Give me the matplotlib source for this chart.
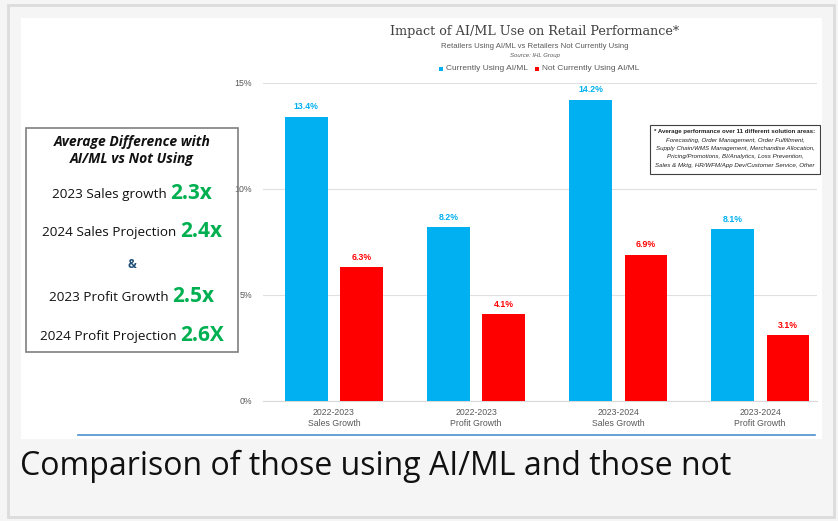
import matplotlib
matplotlib.use("Agg")
import matplotlib.pyplot as plt
from matplotlib.patches import Rectangle
from matplotlib.lines import Line2D

W, H = 838, 521

categories = ["2022-2023\nSales Growth", "2022-2023\nProfit Growth",
              "2023-2024\nSales Growth", "2023-2024\nProfit Growth"]
using = [13.4, 8.2, 14.2, 8.1]
not_using = [6.3, 4.1, 6.9, 3.1]
series_names = ["Currently Using AI/ML", "Not Currently Using AI/ML"]
yticks = [0, 5, 10, 15]

summary_lines = [("2023 Sales growth ", "2.3x"),
                 ("2024 Sales Projection ", "2.4x"),
                 None,
                 ("2023 Profit Growth ", "2.5x"),
                 ("2024 Profit Projection ", "2.6X")]
note_lines = ["* Average performance over 11 different solution areas:",
              "Forecasting, Order Management, Order Fulfillment,",
              "Supply Chain/WMS Management, Merchandise Allocation,",
              "Pricing/Promotions, BI/Analytics, Loss Prevention,",
              "Sales & Mktg, HR/WFM/App Dev/Customer Service, Other"]

BLUE = "#00b0f0"
RED = "#ff0000"
GREEN = "#00b050"
GREY = "#595959"


def fx(px):
    return px / W


def fy(py):
    return 1 - py / H


fig = plt.figure(figsize=(W / 100, H / 100), dpi=100, facecolor="#f5f5f5")

# outer frame and white card (kept behind the axes)
fig.add_artist(Rectangle((fx(8), fy(517)), fx(826), 512 / H, transform=fig.transFigure,
                         fill=False, edgecolor="#dcdcdc", lw=2, zorder=-2))
fig.add_artist(Rectangle((fx(21), fy(439)), fx(801), 421 / H, transform=fig.transFigure,
                         facecolor="white", edgecolor="none", zorder=-1))
fig.add_artist(Line2D([fx(78), fx(815)], [fy(435), fy(435)], transform=fig.transFigure,
                      color="#4a90d0", lw=1.2))

# bar chart
ax = fig.add_axes([fx(263), fy(401), fx(817) - fx(263), 318 / H])
ax.set_facecolor("none")
x = range(len(categories))
off, bw = 0.195, 0.30
bars_u = ax.bar([i - off for i in x], using, bw, color=BLUE, zorder=3)
bars_n = ax.bar([i + off for i in x], not_using, bw, color=RED, zorder=3)
for bars, vals, c in [(bars_u, using, BLUE), (bars_n, not_using, RED)]:
    for b, v in zip(bars, vals):
        ax.annotate(f"{v:.1f}%", (b.get_x() + b.get_width() / 2, v), xytext=(0, 4),
                    textcoords="offset points", ha="center", va="bottom",
                    color=c, fontsize=6.3, fontweight="bold", family="Liberation Sans")
ax.set_xlim(-0.5, 3.4)
ax.set_ylim(0, 15)
ax.set_yticks(yticks)
ax.set_yticklabels([f"{t}%" for t in yticks], fontsize=6.3, color=GREY, family="Liberation Sans")
ax.set_xticks(list(x))
ax.set_xticklabels(categories, fontsize=6.3, color=GREY, family="Liberation Sans", linespacing=1.3)
ax.tick_params(length=0, pad=8)
ax.tick_params(axis="x", pad=5)
ax.grid(axis="y", color="#e0e0e0", lw=0.8, zorder=0)
for s in ["top", "right", "left"]:
    ax.spines[s].set_visible(False)
ax.spines["bottom"].set_color("#d9d9d9")

# titles and legend
fig.text(fx(535), fy(32), "Impact of AI/ML Use on Retail Performance*", ha="center", va="center",
         fontsize=9.2, family="DejaVu Serif", color="#404040")
fig.text(fx(535), fy(46), "Retailers Using AI/ML vs Retailers Not Currently Using", ha="center",
         va="center", fontsize=5.6, family="Liberation Sans", color=GREY)
fig.text(fx(535), fy(55), "Source: IHL Group", ha="center", va="center", fontsize=4.3,
         family="Liberation Sans", style="italic", color=GREY)
for px, c, name in [(441, BLUE, series_names[0]), (537, RED, series_names[1])]:
    fig.add_artist(Rectangle((fx(px - 2), fy(71)), 4 / W, 4 / H, transform=fig.transFigure,
                             facecolor=c, edgecolor="none"))
    fig.text(fx(px + 5), fy(69), name, ha="left", va="center", fontsize=6.0,
             family="Liberation Sans", color=GREY)

# note box
fig.add_artist(Rectangle((fx(650), fy(174)), 170 / W, 49 / H, transform=fig.transFigure,
                         fill=False, edgecolor="#404040", lw=0.8))
for i, line in enumerate(note_lines):
    fig.text(fx(735), fy(132 + i * 8.3), line, ha="center", va="center", fontsize=4.4,
             family="Liberation Sans", color="#222222",
             fontweight="bold" if i == 0 else "normal", style="normal" if i == 0 else "italic")

# summary box
fig.add_artist(Rectangle((fx(26), fy(352)), 212 / W, 224 / H, transform=fig.transFigure,
                         fill=False, edgecolor="#7f7f7f", lw=1.2))
fig.text(fx(132), fy(142), "Average Difference with", ha="center", va="center", fontsize=10,
         family="Open Sans", fontweight="bold", style="italic", color="#111111")
fig.text(fx(132), fy(159), "AI/ML vs Not Using", ha="center", va="center", fontsize=10,
         family="Open Sans", fontweight="bold", style="italic", color="#111111")

fig.canvas.draw()
renderer = fig.canvas.get_renderer()
rows_y = [194, 232, 264, 297, 336]
for row, py in zip(summary_lines, rows_y):
    if row is None:
        fig.text(fx(132), fy(py), "&", ha="center", va="center", fontsize=8.5,
                 family="Open Sans", fontweight="bold", color="#1f4e79")
        continue
    label, val = row
    t1 = fig.text(0, fy(py + 4), label, ha="left", va="baseline", fontsize=9.7,
                  family="Open Sans", color="#111111")
    t2 = fig.text(0, fy(py + 5), val, ha="left", va="baseline", fontsize=15,
                  family="Open Sans", fontweight="bold", color=GREEN)
    w1 = t1.get_window_extent(renderer).width
    w2 = t2.get_window_extent(renderer).width
    start = 132 - (w1 + w2) / 2
    t1.set_x(fx(start))
    t2.set_x(fx(start + w1))

fig.text(fx(20), fy(466), "Comparison of those using AI/ML and those not", ha="left", va="center",
         fontsize=23, family="Open Sans", color="#111111")

fig.savefig("out.png", dpi=100, facecolor=fig.get_facecolor())
